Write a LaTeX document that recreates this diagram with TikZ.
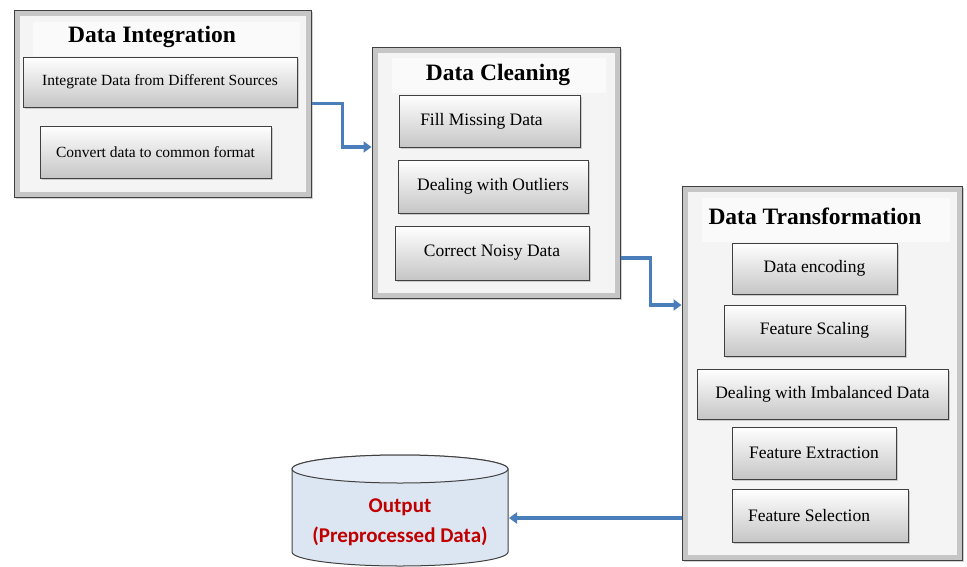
\documentclass[tikz,border=0pt]{standalone}
\usepackage{fontspec}
\setmainfont{Liberation Serif}
\newfontfamily\calib{Carlito}
\usetikzlibrary{arrows.meta,shadows}
\definecolor{arrblue}{HTML}{4A7EBB}
\definecolor{outred}{HTML}{C00000}
\definecolor{cylfill}{HTML}{DCE6F2}
\definecolor{cyltop}{HTML}{E8EEF7}
\begin{document}
\begin{tikzpicture}[x=1pt,y=-1pt,
  frame/.style={draw=black!75, line width=1pt, fill=gray!45, inner sep=0pt,
    drop shadow={shadow xshift=2pt, shadow yshift=-2pt, opacity=0.35}},
  inner/.style={fill=gray!9},
  titlebg/.style={fill=gray!4},
  title/.style={font=\fontsize{23.5}{26}\selectfont\bfseries, inner sep=0pt},
  sub/.style={draw=black!75, line width=1pt, top color=white, bottom color=gray!45,
    inner sep=0pt, font=\fontsize{17.5}{20}\selectfont,
    drop shadow={shadow xshift=2pt, shadow yshift=-2pt, opacity=0.35}},
  subsmall/.style={sub, font=\fontsize{15.5}{18}\selectfont},
  arr/.style={draw=arrblue, line width=3.5pt, -{Triangle[width=11pt,length=8pt]}},
]
\clip (0,0) rectangle (967,566);
\fill[white] (0,0) rectangle (967,566);

% ---------- Box 1: Data Integration ----------
\node[frame, minimum width=297pt, minimum height=187pt] (b1) at (162.5,103.5) {};
\fill[inner] ([shift={(6pt,-6pt)}]b1.north west) rectangle ([shift={(-6pt,6pt)}]b1.south east);
\fill[titlebg] (33,22) rectangle (300,56);
\node[title] (t1) at (152,37) {Data Integration};
\node[subsmall, minimum width=274pt, minimum height=50pt] (s11) at (160,82) {Integrate Data from Different Sources};
\node[subsmall, minimum width=231pt, minimum height=52pt] (s12) at (155.5,152) {Convert data to common format};

% ---------- Box 2: Data Cleaning ----------
\node[frame, minimum width=248pt, minimum height=251pt] (b2) at (496,172.5) {};
\fill[inner] ([shift={(6pt,-6pt)}]b2.north west) rectangle ([shift={(-6pt,6pt)}]b2.south east);
\fill[titlebg] (392,58) rectangle (606,93);
\node[title] (t2) at (498,75) {Data Cleaning};
\node[sub, minimum width=181pt, minimum height=52pt] (s21) at (489.5,121) {\hspace*{-16pt}Fill Missing Data};
\node[sub, minimum width=190pt, minimum height=53pt] (s22) at (493,186.5) {Dealing with Outliers};
\node[sub, minimum width=194pt, minimum height=54pt] (s23) at (492,253) {Correct Noisy Data};

% ---------- Box 3: Data Transformation ----------
\node[frame, minimum width=280pt, minimum height=374pt] (b3) at (822,373) {};
\fill[inner] ([shift={(6pt,-6pt)}]b3.north west) rectangle ([shift={(-6pt,6pt)}]b3.south east);
\fill[titlebg] (702,198) rectangle (950,242);
\node[title] (t3) at (815,216) {Data Transformation};
\node[sub, minimum width=165pt, minimum height=51pt] (s31) at (814.5,268.5) {Data encoding};
\node[sub, minimum width=181pt, minimum height=51pt] (s32) at (814.5,330.5) {Feature Scaling};
\node[sub, minimum width=251pt, minimum height=50pt] (s33) at (822.5,394) {Dealing with Imbalanced Data};
\node[sub, minimum width=164pt, minimum height=52pt] (s34) at (814,453) {Feature Extraction};
\node[sub, minimum width=176pt, minimum height=53pt] (s35) at (820,515.5) {\hspace*{-22pt}Feature Selection};

% ---------- Output cylinder ----------
\path[draw=black!75, line width=1pt, fill=cylfill]
  (292,469) -- (292,552) arc[start angle=180, end angle=360, x radius=108pt, y radius=14pt]
  -- (508,469) arc[start angle=0, end angle=180, x radius=108pt, y radius=14pt] -- cycle;
\draw[black!75, line width=1pt, fill=cyltop] (400,469) ellipse[x radius=108pt, y radius=14pt];
\node[font=\calib\bfseries\fontsize{21}{30}\selectfont, text=outred, align=center, inner sep=0pt] (out) at (400,522) {Output\\(Preprocessed Data)};
\coordinate (cylR) at (509,518);

% ---------- Connectors ----------
\draw[arr] (b1.east) -- ++(31pt,0pt) |- ([yshift=25.5pt]b2.west);
\draw[arr] ([yshift=-85.5pt]b2.east) -- ++(30pt,0pt) |- ([yshift=68pt]b3.west);
\draw[arr] (b3.west |- cylR) -- (cylR);
\end{tikzpicture}
\end{document}
